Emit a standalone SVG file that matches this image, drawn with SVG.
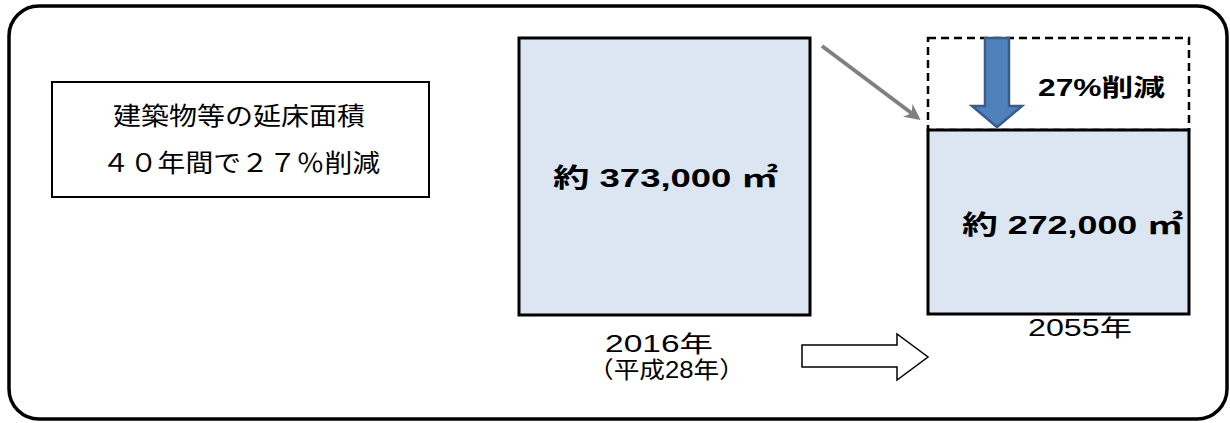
<svg xmlns="http://www.w3.org/2000/svg" width="1230" height="423" viewBox="0 0 1230 423">
<defs>
<style>
text{font-family:"Liberation Sans","Noto Sans CJK JP",sans-serif;fill:#000;}
.lbl{font-size:25px;}
.val{font-size:26px;font-weight:bold;}
.yr{font-size:23px;}
.box{fill:#DCE6F2;stroke:#000;stroke-width:3;}
</style>
<marker id="gh" viewBox="0 0 10 10" refX="8" refY="5" markerWidth="4" markerHeight="4" orient="auto" markerUnits="strokeWidth">
<path d="M0,0 L10,5 L0,10 L3,5 Z" fill="#808080"/>
</marker>
</defs>
<rect x="9" y="6" width="1218" height="413" rx="30" ry="30" fill="#fff" stroke="#000" stroke-width="3.5"/>
<g id="summary">
<rect x="52" y="82" width="377" height="115" fill="#fff" stroke="#000" stroke-width="2"/>
<text class="lbl" x="113" y="125" textLength="252" lengthAdjust="spacingAndGlyphs">建築物等の延床面積</text>
<text class="lbl" x="102" y="172" textLength="278" lengthAdjust="spacingAndGlyphs">４０年間で２７％削減</text>
</g>
<g id="area2016">
<rect class="box" x="519" y="38" width="291" height="277"/>
<text class="val" x="553" y="187" textLength="225" lengthAdjust="spacingAndGlyphs">約 373,000 ㎡</text>
<text class="yr" x="605" y="352" textLength="108" lengthAdjust="spacingAndGlyphs">2016年</text>
<text class="yr" x="588" y="378" textLength="157" lengthAdjust="spacingAndGlyphs">（平成28年）</text>
</g>
<g id="area2055">
<rect x="928" y="38" width="261" height="92" fill="none" stroke="#000" stroke-width="2.5" stroke-dasharray="8,5"/>
<rect class="box" x="928" y="130" width="261" height="184"/>
<text class="val" x="962" y="234" textLength="221" lengthAdjust="spacingAndGlyphs">約 272,000 ㎡</text>
<text class="yr" x="1028" y="336" textLength="104" lengthAdjust="spacingAndGlyphs">2055年</text>
</g>
<g id="reduction">
<path d="M985,38 L1009,38 L1009,106 L1022,106 L997,127 L972,106 L985,106 Z" fill="#4F81BD" stroke="#385D8A" stroke-width="2.5"/>
<text x="1038" y="96" textLength="127" lengthAdjust="spacingAndGlyphs" style="font-size:24px;font-weight:bold">27%削減</text>
</g>
<g id="connectors">
<line x1="822" y1="46" x2="918" y2="118" stroke="#808080" stroke-width="4" marker-end="url(#gh)"/>
<path d="M802,345 L897,345 L897,334 L928,357 L897,380 L897,367 L802,367 Z" fill="#fff" stroke="#000" stroke-width="1.5"/>
</g>
</svg>
